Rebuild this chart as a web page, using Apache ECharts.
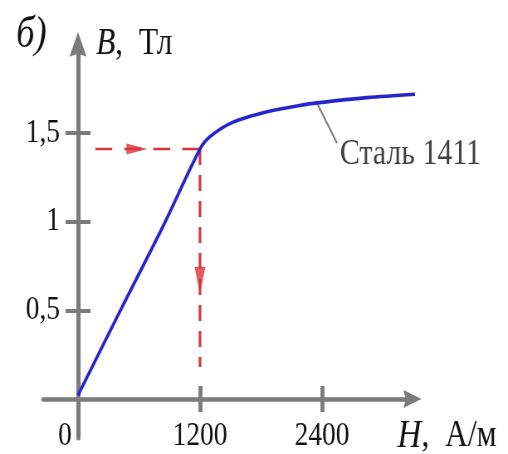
<!DOCTYPE html>
<html><head><meta charset="utf-8">
<script src="https://cdn.jsdelivr.net/npm/echarts@6/dist/echarts.min.js"></script>
<style>
html,body{margin:0;padding:0;background:#fff;overflow:hidden}
#wrap{width:508px;height:454px;overflow:hidden;position:relative;background:#fff}
#chart{position:absolute;left:0;top:0;height:454px;transform-origin:0 0}
</style></head><body><div id="wrap"><div id="chart"></div></div>
<script>
// ---- data ----
const curveH = [0, 400, 850, 1200, 1300, 1520, 1860, 2180, 2350, 2840, 3480];
const curveB = [0.02, 0.48, 0.99, 1.41, 1.48, 1.56, 1.62, 1.655, 1.67, 1.70, 1.725];
const guideHorizH = [170, 1200];
const guideHorizB = [1.41, 1.41];
const guideVertH = [1200, 1200];
const guideVertB = [1.41, 0.18];
const arrowH = [580, 1200];
const arrowB = [1.41, 0.67];
const leaderH = [2350, 2547];
const leaderB = [1.67, 1.444];
const curveName = 'Сталь 1411';
const labelAnchor = [2560, 1.376];
const xTickValues = [1200, 2400];
const xLabelValues = [0, 1200, 2400];
const xLabelTexts = ['0', '1200', '2400'];
const yTickValues = [0.5, 1, 1.5];
const yLabelTexts = ['0,5', '1', '1,5'];
const panelLabel = 'б)';

// ---- layout (the original picture is horizontally compressed) ----
const S = 0.83;
const W = 508 / S;
const el = document.getElementById('chart');
el.style.width = W + 'px';
el.style.transform = 'scaleX(' + S + ')';

const FONT = '"Liberation Serif", "DejaVu Serif", serif';
const FS = 33;
const NFS = 38;
const TXT = '#111';
const GRAY = '#7b7b7b';
const RED = '#d8353a';
const BLUE = '#2626cc';
const xMin = -344, xMax = 3290, yMin = -0.22, yMax = 2.0;
const arrowPath = 'path://M10,0 L20,24 L10,21 L0,24 Z';

const chart = echarts.init(el, null, {renderer: 'canvas'});
const zip = (a, b) => a.map((v, i) => [v, b[i]]);

const option = {
  animation: false,
  backgroundColor: '#fff',
  title: {
    text: panelLabel, left: 12 / S, top: 8,
    textStyle: {fontFamily: FONT, fontStyle: 'italic', fontWeight: 'normal', fontSize: 44, color: TXT}
  },
  grid: {left: 43 / S, right: W - 412.5 / S, top: 399 - 2.0 * 177.3, bottom: 16,
    containLabel: false, outerBoundsMode: 'none'},
  xAxis: [{
    type: 'value', min: xMin, max: xMax, position: 'bottom', offset: -39,
    axisLine: {show: true, onZero: false, symbol: ['none', arrowPath], symbolSize: [18, 27 / S],
      lineStyle: {color: GRAY, width: 4.5}},
    axisTick: {show: true, customValues: xTickValues, length: 13, inside: false,
      lineStyle: {color: GRAY, width: 4 / S}},
    axisLabel: {show: true, customValues: xLabelValues, margin: 21,
      fontFamily: FONT, fontSize: FS, color: TXT,
      formatter: v => { const i = xLabelValues.indexOf(v); const t = i >= 0 ? xLabelTexts[i] : ''; return v === 0 ? '{z|' + t + '}' : t; },
      rich: {z: {fontFamily: FONT, fontSize: FS, color: TXT, padding: [0, 26 / S, 0, 0]}}},
    splitLine: {show: false},
    name: '{i|H}{r|,  А/м}', nameLocation: 'end', nameGap: -15 / S,
    nameTextStyle: {align: 'left', verticalAlign: 'top', padding: [17, 0, 0, 0],
      rich: {i: {fontFamily: FONT, fontStyle: 'italic', fontSize: NFS + 2, color: TXT},
             r: {fontFamily: FONT, fontSize: NFS, color: TXT}}}
  }, {
    type: 'value', min: xMin, max: xMax, position: 'top',
    axisLine: {show: false, onZero: true, onZeroAxisIndex: 0},
    axisTick: {show: true, customValues: xTickValues, length: 13, lineStyle: {color: GRAY, width: 4 / S}},
    axisLabel: {show: false}, splitLine: {show: false}
  }],
  yAxis: [{
    type: 'value', min: yMin, max: yMax, position: 'left', offset: -35 / S,
    axisLine: {show: true, onZero: false, symbol: ['none', arrowPath], symbolSize: [17 / S, 33],
      lineStyle: {color: GRAY, width: 4.2 / S}},
    axisTick: {show: true, customValues: yTickValues, length: 12.5 / S, lineStyle: {color: GRAY, width: 4}},
    axisLabel: {show: true, customValues: yTickValues, margin: 18 / S,
      fontFamily: FONT, fontSize: FS, color: TXT,
      formatter: v => { const i = yTickValues.indexOf(v); return i >= 0 ? yLabelTexts[i] : ''; }},
    splitLine: {show: false},
    name: '{i|B}{r|,  Тл}', nameLocation: 'end', nameGap: 0,
    nameTextStyle: {align: 'left', verticalAlign: 'middle', padding: [0, 0, 0, 18 / S],
      rich: {i: {fontFamily: FONT, fontStyle: 'italic', fontSize: NFS, color: TXT},
             r: {fontFamily: FONT, fontSize: NFS, color: TXT}}}
  }, {
    type: 'value', min: yMin, max: yMax, position: 'right',
    axisLine: {show: false, onZero: true, onZeroAxisIndex: 0},
    axisTick: {show: true, customValues: yTickValues, length: 12.5 / S, lineStyle: {color: GRAY, width: 4}},
    axisLabel: {show: false}, splitLine: {show: false}
  }],
  series: [{
    name: 'guideH', type: 'line', xAxisIndex: 0, yAxisIndex: 0, data: zip(guideHorizH, guideHorizB),
    showSymbol: false, clip: false, silent: true, z: 3,
    lineStyle: {color: RED, width: 2.6, type: [17 / S, 12 / S]}
  }, {
    name: 'guideV', type: 'line', xAxisIndex: 0, yAxisIndex: 0, data: zip(guideVertH, guideVertB),
    showSymbol: false, clip: false, silent: true, z: 3,
    lineStyle: {color: RED, width: 2.6 / S, type: [16, 10]}
  }, {
    name: 'arrows', type: 'scatter', xAxisIndex: 0, yAxisIndex: 0, clip: false, silent: true, z: 4,
    data: [
      {value: [arrowH[0], arrowB[0]], symbol: 'triangle', symbolRotate: -90, symbolSize: [11, 21 / S]},
      {value: [arrowH[1], arrowB[1]], symbol: 'triangle', symbolRotate: 180, symbolSize: [11 / S, 27]}
    ],
    itemStyle: {color: RED}
  }, {
    name: 'leader', type: 'line', xAxisIndex: 0, yAxisIndex: 0, data: zip(leaderH, leaderB),
    showSymbol: false, clip: false, silent: true, z: 4,
    lineStyle: {color: GRAY, width: 2}
  }, {
    name: curveName, type: 'line', xAxisIndex: 0, yAxisIndex: 0, data: zip(curveH, curveB),
    showSymbol: false, clip: false, smooth: 0.3, z: 5,
    lineStyle: {color: BLUE, width: 3.6}
  }, {
    name: 'label', type: 'scatter', xAxisIndex: 0, yAxisIndex: 0, clip: false, silent: true, z: 6,
    data: [labelAnchor], symbolSize: 0,
    label: {show: true, position: 'right', distance: 2, formatter: curveName,
      fontFamily: FONT, fontSize: 36, color: TXT}
  }]
};
chart.setOption(option);
</script></body></html>
